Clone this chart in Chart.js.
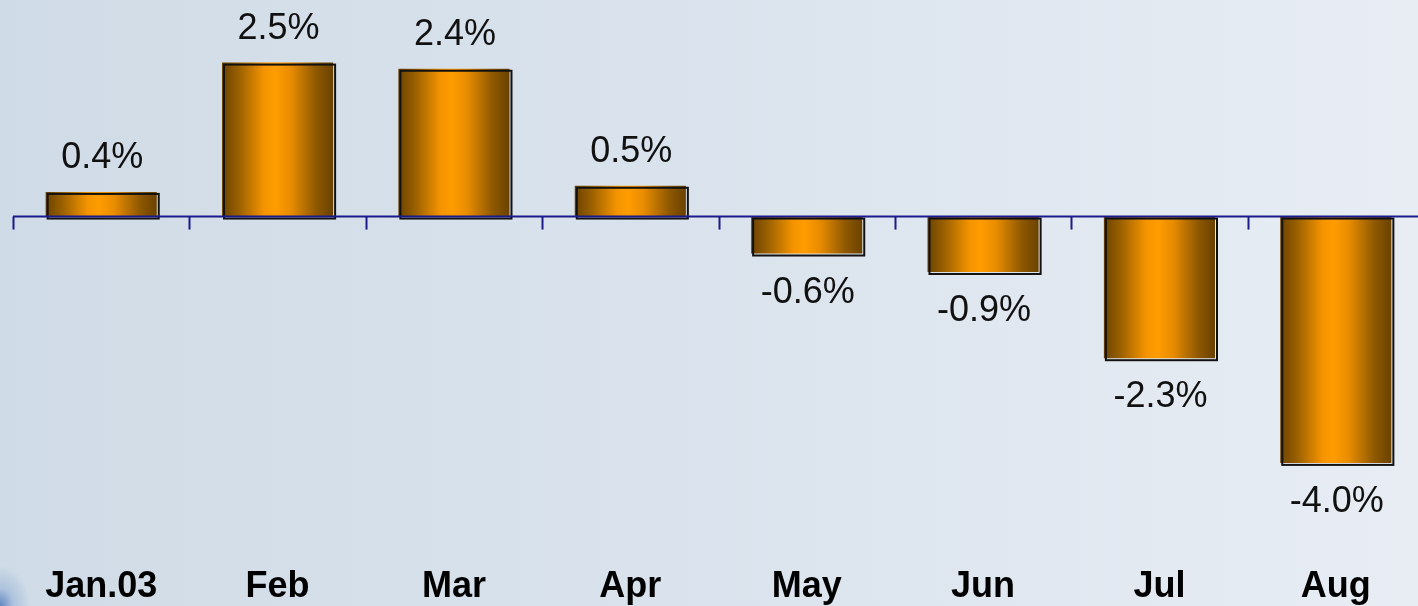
<!DOCTYPE html>
<html>
<head>
<meta charset="utf-8">
<script src="https://cdn.jsdelivr.net/npm/chart.js@4"></script>
<style>
  html, body { margin: 0; padding: 0; overflow: hidden; width: 1418px; height: 606px; }
  body {
    background:
      radial-gradient(ellipse 30px 40px at 0px 606px, rgba(50,100,175,0.7) 0%, rgba(110,150,205,0.35) 45%, rgba(200,215,230,0) 100%),
      linear-gradient(to right, #cfdbe6 0%, #d7e1eb 35%, #dee6ef 65%, #e8edf4 100%);
  }
  #wrap { position: absolute; left: 0; top: 0; width: 1430px; height: 606px; }
</style>
</head>
<body>
<div id="wrap"><canvas id="c"></canvas></div>
<script>
const categories = ['Jan.03', 'Feb', 'Mar', 'Apr', 'May', 'Jun', 'Jul', 'Aug'];
const changePct = [0.4, 2.5, 2.4, 0.5, -0.6, -0.9, -2.3, -4.0];
const valueLabels = ['0.4%', '2.5%', '2.4%', '0.5%', '-0.6%', '-0.9%', '-2.3%', '-4.0%'];

const FONT = "'Liberation Sans', Arial, sans-serif";

function barGradient(context) {
  const chart = context.chart;
  const xs = chart.scales && chart.scales.x;
  if (!xs || !chart.chartArea) return '#ff9900';
  const cx = xs.getPixelForValue(context.dataIndex);
  const w = (xs.width / categories.length) * 0.63;
  const g = chart.ctx.createLinearGradient(cx - w / 2, 0, cx + w / 2, 0);
  g.addColorStop(0, '#6c4300');
  g.addColorStop(0.15, '#9a6000');
  g.addColorStop(0.38, '#f59400');
  g.addColorStop(0.48, '#ff9c00');
  g.addColorStop(0.62, '#e88c00');
  g.addColorStop(0.85, '#8e5800');
  g.addColorStop(1, '#6a4200');
  return g;
}

const decorPlugin = {
  id: 'decor',
  afterDatasetsDraw(chart) {
    const ctx = chart.ctx;
    const meta = chart.getDatasetMeta(0);
    const xs = chart.scales.x, ys = chart.scales.y;
    const area = chart.chartArea;
    ctx.save();
    // offset outline (shadow-like edge) for each bar
    meta.data.forEach((bar) => {
      const p = bar.getProps(['x', 'y', 'base', 'width'], true);
      const left = p.x - p.width / 2;
      const top = Math.min(p.y, p.base);
      const h = Math.abs(p.base - p.y);
      ctx.strokeStyle = '#111';
      ctx.lineWidth = 2;
      ctx.strokeRect(left + 2, top + 2, p.width, h);
    });
    // zero axis line
    const y0 = ys.getPixelForValue(0);
    ctx.strokeStyle = '#1a1a8a';
    ctx.lineWidth = 2;
    ctx.beginPath();
    ctx.moveTo(area.left, y0);
    ctx.lineTo(area.right, y0);
    ctx.stroke();
    // category boundary ticks
    for (let i = 0; i < categories.length; i++) {
      const xb = Math.round(xs.getPixelForValue(i - 0.5)) + 0.5;
      ctx.beginPath();
      ctx.moveTo(xb, y0);
      ctx.lineTo(xb, y0 + 13);
      ctx.stroke();
    }
    // value labels
    ctx.fillStyle = '#111';
    ctx.font = '36px ' + FONT;
    ctx.textAlign = 'center';
    ctx.textBaseline = 'alphabetic';
    meta.data.forEach((bar, i) => {
      const p = bar.getProps(['x', 'y'], true);
      const v = changePct[i];
      const ty = v >= 0 ? p.y - 24 : p.y + 49;
      ctx.fillText(valueLabels[i], p.x + 1, ty);
    });
    ctx.restore();
  }
};

new Chart(document.getElementById('c'), {
  type: 'bar',
  data: {
    labels: categories,
    datasets: [{
      data: changePct,
      backgroundColor: barGradient,
      borderWidth: 0,
      barPercentage: 0.63,
      categoryPercentage: 1.0
    }]
  },
  options: {
    responsive: true,
    maintainAspectRatio: false,
    animation: false,
    layout: { padding: { left: 13, right: 6, top: 1, bottom: 0 } },
    plugins: { legend: { display: false }, tooltip: { enabled: false } },
    scales: {
      x: {
        grid: { display: false, drawTicks: false },
        border: { display: false },
        ticks: {
          color: '#000',
          font: { family: FONT, size: 36, weight: 'bold', lineHeight: 0.9 },
          padding: 3,
          maxRotation: 0,
          autoSkip: false
        }
      },
      y: {
        display: false,
        min: -5.7,
        max: 3.5
      }
    }
  },
  plugins: [decorPlugin]
});
</script>
</body>
</html>
